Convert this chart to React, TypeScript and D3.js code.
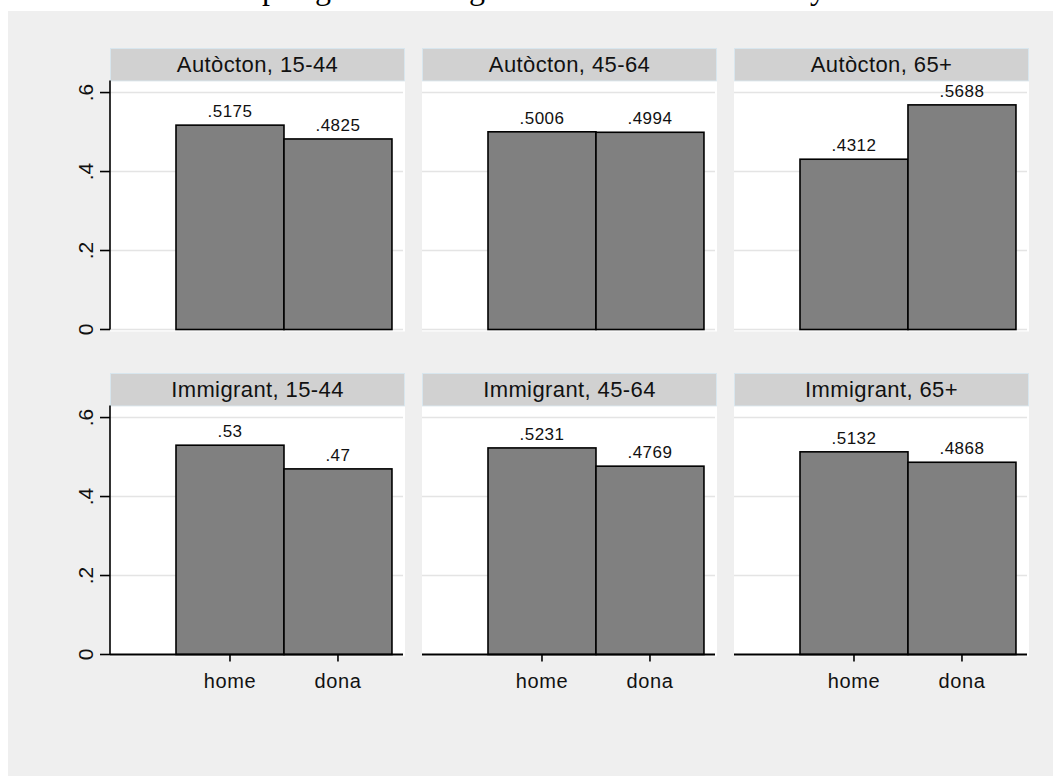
import { useMemo } from 'react';
import * as d3 from 'd3';

// data
const sexes = ['home', 'dona'];
const origins = ['Autòcton', 'Immigrant'];
const ageGroups = ['15-44', '45-64', '65+'];
const autoctonValues = [
  [0.5175, 0.4825],
  [0.5006, 0.4994],
  [0.4312, 0.5688],
];
const immigrantValues = [
  [0.53, 0.47],
  [0.5231, 0.4769],
  [0.5132, 0.4868],
];
const yTicks = [0, 0.2, 0.4, 0.6];
const yTickLabels = ['0', '.2', '.4', '.6'];
// tail ends of a title cut off above the picture
const titleGlyphs = ['p', 'g', 'g', 'y'];
const titleGlyphX = [270, 323, 477, 818];

const W = 1053;
const H = 776;
const colLeft = [110, 422, 734];
const rowTop = [48, 373];
const panelW = 295;
const stripH = 33.5;
const plotH = 248;

const font = '"Liberation Sans", Arial, Helvetica, sans-serif';
const fmt = (v: number) => String(v).replace(/^0/, '');

export default function App() {
  const x = useMemo(
    () =>
      d3
        .scaleBand<string>()
        .domain(sexes)
        .range([0, panelW])
        .paddingInner(0)
        .paddingOuter(0.366)
        .align(0.835),
    []
  );
  const y = useMemo(
    () => d3.scaleLinear().domain([0, 0.628]).range([plotH, 0]),
    []
  );

  const series = [autoctonValues, immigrantValues];

  return (
    <svg
      width={W}
      height={H}
      style={{ position: 'absolute', left: 0, top: 0, background: '#fff' }}
      fontFamily={font}
    >
      {titleGlyphs.map((g, i) => (
        <text
          key={i}
          x={titleGlyphX[i]}
          y={-1.5}
          textAnchor="middle"
          fontFamily='"Liberation Serif", "Times New Roman", serif'
          fontSize={32}
          fill="#000"
        >
          {g}
        </text>
      ))}
      <rect x={8} y={11} width={W - 8} height={H - 11} fill="#efefef" />

      {origins.map((origin, r) =>
        ageGroups.map((age, c) => {
          const left = colLeft[c];
          const top = rowTop[r];
          const plotTop = top + stripH;
          const vals = series[r][c];
          const y0 = plotTop + y(0);
          return (
            <g key={`${r}-${c}`}>
              {/* strip */}
              <rect
                x={left + 0.5}
                y={top + 0.5}
                width={panelW - 1}
                height={stripH - 1}
                fill="#d1d1d1"
                stroke="#d8e6ee"
                strokeWidth={1}
              />
              <text
                x={left + panelW / 2}
                y={top + 24}
                textAnchor="middle"
                fontSize={22}
                letterSpacing={0.4}
                fill="#111"
              >
                {`${origin}, ${age}`}
              </text>

              {/* plot region */}
              <rect x={left} y={plotTop} width={panelW} height={plotH + 2} fill="#fff" />
              {yTicks.map((t) =>
                r === 1 && t === 0 ? null : (
                  <line
                    key={t}
                    x1={left}
                    x2={left + panelW - 2}
                    y1={plotTop + y(t)}
                    y2={plotTop + y(t)}
                    stroke="#e4e4e4"
                    strokeWidth={1.6}
                  />
                )
              )}

              {/* bars */}
              {sexes.map((s, i) => (
                <g key={s}>
                  <rect
                    x={left + (x(s) ?? 0)}
                    y={plotTop + y(vals[i])}
                    width={x.bandwidth()}
                    height={y(0) - y(vals[i])}
                    fill="#808080"
                    stroke="#000"
                    strokeWidth={1.6}
                  />
                  <text
                    x={left + (x(s) ?? 0) + x.bandwidth() / 2}
                    y={plotTop + y(vals[i]) - 8}
                    textAnchor="middle"
                    fontSize={17}
                    letterSpacing={0.5}
                    fill="#111"
                  >
                    {fmt(vals[i])}
                  </text>
                </g>
              ))}

              {/* y axis */}
              {c === 0 && (
                <g>
                  <line
                    x1={left}
                    x2={left}
                    y1={plotTop - 1}
                    y2={y0}
                    stroke="#000"
                    strokeWidth={1.6}
                  />
                  {yTicks.map((t, i) => (
                    <g key={t}>
                      <line
                        x1={left - 10}
                        x2={left}
                        y1={plotTop + y(t)}
                        y2={plotTop + y(t)}
                        stroke="#000"
                        strokeWidth={1.6}
                      />
                      <text
                        transform={`translate(${left - 17},${plotTop + y(t)}) rotate(-90)`}
                        textAnchor="middle"
                        fontSize={21}
                        fill="#111"
                      >
                        {yTickLabels[i]}
                      </text>
                    </g>
                  ))}
                </g>
              )}

              {/* x axis */}
              {r === 1 && (
                <g>
                  <line
                    x1={left}
                    x2={left + panelW - 2}
                    y1={y0}
                    y2={y0}
                    stroke="#000"
                    strokeWidth={2}
                  />
                  {sexes.map((s) => {
                    const cx = left + (x(s) ?? 0) + x.bandwidth() / 2;
                    return (
                      <g key={s}>
                        <line x1={cx} x2={cx} y1={y0} y2={y0 + 7} stroke="#000" strokeWidth={1.6} />
                        <text
                          x={cx}
                          y={y0 + 33}
                          textAnchor="middle"
                          fontSize={20}
                          letterSpacing={0.6}
                          fill="#111"
                        >
                          {s}
                        </text>
                      </g>
                    );
                  })}
                </g>
              )}
            </g>
          );
        })
      )}
    </svg>
  );
}
